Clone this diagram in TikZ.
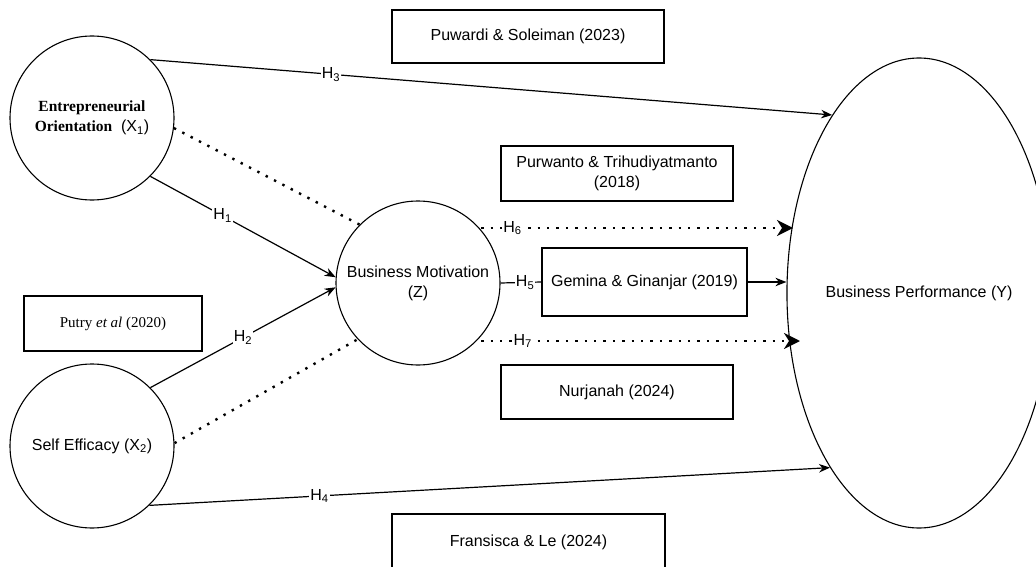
\documentclass[tikz,border=0pt]{standalone}
\usepackage{fontspec}
\setmainfont{Liberation Sans}
\newfontfamily\serifbox{Liberation Serif}
\usetikzlibrary{arrows.meta,shapes.geometric}
\newcommand\eofont{\serifbox\bfseries\fontsize{15.5}{19}\selectfont}

\begin{document}
\begin{tikzpicture}[x=1pt,y=-1pt,
  every node/.style={font=\fontsize{16}{20}\selectfont},
  latent/.style={draw,circle,line width=1.1pt,minimum size=164pt,inner sep=0pt,align=center},
  refbox/.style={draw,rectangle,line width=1.1pt,inner sep=0pt,align=center},
  hyp/.style={fill=white,inner sep=1pt},
  effect/.style={line width=1.2pt,-{Stealth[length=11pt,width=8.5pt]}},
  dots/.style={line width=2.4pt,dash pattern=on 2.4pt off 7pt},
  dotarrow/.style={dots,-{Stealth[length=16pt,width=16pt,inset=5pt]}}]
\useasboundingbox (0,0) rectangle (1036,567);
\clip (0,0) rectangle (1036,567);
%
\node[latent] (eo) at (92,118) {{\eofont Entrepreneurial}\\{\eofont Orientation}~~(X\textsubscript{1})};
\node[latent] (se) at (92,446) {Self Efficacy (X\textsubscript{2})};
\node[latent] (bm) at (418,283) {Business Motivation\\(Z)};
\node[draw,ellipse,line width=1.1pt,minimum width=236pt,minimum height=470pt,inner sep=0pt] (bp) at (919,293) {Business Performance (Y)};
%
\node[refbox,minimum width=272pt,minimum height=53pt] (puw) at (528,36.5) {Puwardi \& Soleiman (2023)};
\node[refbox,minimum width=232pt,minimum height=55pt] (pur) at (617,173.5) {Purwanto \& Trihudiyatmanto\\(2018)};
\node[refbox,minimum width=205pt,minimum height=68pt] (gem) at (644.5,282) {Gemina \& Ginanjar (2019)};
\node[refbox,minimum width=232pt,minimum height=54pt] (nur) at (617,392) {Nurjanah (2024)};
\node[refbox,minimum width=273pt,minimum height=56pt] (fra) at (528.5,542) {Fransisca \& Le (2024)};
\node[refbox,minimum width=178pt,minimum height=55pt,font=\serifbox\fontsize{15}{18}\selectfont] (put) at (113,323.5) {Putry \textit{et al} (2020)};
%
\coordinate (h6end) at (793,228);
\coordinate (h7end) at (800,341);
%
\draw[effect] (eo.-45) -- node[hyp,pos=.39] {H\textsubscript{1}} (bm.176);
\draw[effect] (se.45) -- node[hyp,pos=.5] {H\textsubscript{2}} (bm.183);
\draw[effect] (eo.45) -- node[hyp,pos=.265] {H\textsubscript{3}} (bp.116);
\draw[effect] (se.-46) -- node[hyp,pos=.25] {H\textsubscript{4}} (bp.-117);
\draw[line width=1.2pt] (bm.east) -- node[hyp,pos=.6] {H\textsubscript{5}} (gem.west);
\draw[effect] (gem.east) -- (gem.east -| bp.west);
\draw[dotarrow] (h6end -| bm.40) -- node[hyp,pos=.1] {H\textsubscript{6}} (h6end);
\draw[dotarrow] (h7end -| bm.-40) -- node[hyp,pos=.13] {H\textsubscript{7}} (h7end);
\draw[dots] (eo.-7) -- (bm.135);
\draw[dots] (se.2) -- (bm.-137);
\end{tikzpicture}
\end{document}
